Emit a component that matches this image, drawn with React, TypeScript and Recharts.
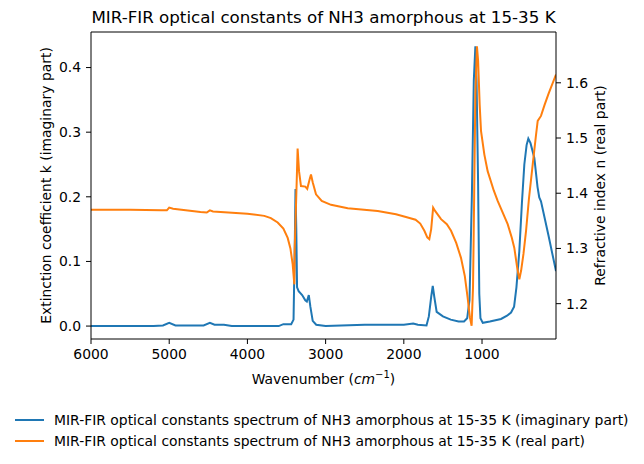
import React from "react";
import { ComposedChart, Line, XAxis, YAxis, ReferenceLine, Legend } from "recharts";

// wavenumber (cm-1) -> extinction coefficient k
const kWavenumbers = [
  6000, 5200, 5080, 5000, 4920, 4560, 4480, 4420, 4300, 4200, 3600, 3540, 3440, 3410, 3395, 3385,
  3375, 3365, 3345, 3300, 3260, 3240, 3215, 3195, 3165, 3120, 3000, 2500, 2200, 2000, 1880, 1820,
  1710, 1680, 1650, 1630, 1610, 1580, 1500, 1400, 1300, 1230, 1190, 1160, 1130, 1105, 1085, 1070,
  1050, 1035, 1020, 990, 900, 757, 680, 629, 590, 560, 523, 490, 459, 430, 408, 380, 331, 290,
  268, 246, 150, 54,
];
const kValues = [
  0.0, 0.0, 0.001, 0.005, 0.001, 0.001, 0.005, 0.002, 0.002, 0.0, 0.0, 0.003, 0.003, 0.01, 0.12, 0.212,
  0.15, 0.06, 0.054, 0.048, 0.04, 0.038, 0.048, 0.03, 0.008, 0.002, 0.0, 0.002, 0.002, 0.002, 0.004, 0.002,
  0.001, 0.015, 0.045, 0.062, 0.045, 0.022, 0.015, 0.01, 0.007, 0.007, 0.012, 0.04, 0.2, 0.38, 0.433, 0.38,
  0.22, 0.05, 0.012, 0.005, 0.007, 0.011, 0.016, 0.021, 0.03, 0.06, 0.116, 0.19, 0.25, 0.28, 0.29, 0.283, 0.26, 0.215,
  0.199, 0.193, 0.14, 0.085,
];

// wavenumber (cm-1) -> refractive index n
const nWavenumbers = [
  6000, 5500, 5100, 5030, 5000, 4950, 4600, 4520, 4480, 4440, 4000, 3784, 3700, 3613, 3540, 3485,
  3450, 3421, 3400, 3395, 3370, 3358, 3340, 3315, 3260, 3235, 3205, 3187, 3165, 3123, 3050, 2931,
  2717, 2334, 2100, 1950, 1850, 1790, 1737, 1700, 1674, 1650, 1625, 1600, 1524, 1450, 1396, 1330,
  1269, 1220, 1184, 1155, 1133, 1115, 1100, 1085, 1065, 1050, 1030, 1013, 970, 928, 850, 800,
  672, 620, 587, 550, 523, 500, 470, 437, 400, 352, 310, 288, 246, 200, 150, 54,
];
const nValues = [
  1.37, 1.37, 1.369, 1.369, 1.374, 1.372, 1.366, 1.365, 1.369, 1.367, 1.363, 1.359, 1.355, 1.347, 1.336, 1.319,
  1.3, 1.271, 1.235, 1.3, 1.42, 1.481, 1.44, 1.413, 1.412, 1.408, 1.425, 1.434, 1.42, 1.398, 1.386, 1.379,
  1.373, 1.368, 1.362, 1.356, 1.352, 1.345, 1.332, 1.32, 1.317, 1.335, 1.374, 1.368, 1.353, 1.344, 1.332, 1.31,
  1.283, 1.25, 1.211, 1.175, 1.16, 1.23, 1.4, 1.58, 1.666, 1.64, 1.56, 1.513, 1.47, 1.44, 1.405, 1.386,
  1.344, 1.32, 1.301, 1.265, 1.244, 1.26, 1.29, 1.332, 1.39, 1.452, 1.505, 1.531, 1.54, 1.56, 1.58, 1.615,
];

const xTicks = [6000, 5000, 4000, 3000, 2000, 1000];
const kTicks = [0, 0.1, 0.2, 0.3, 0.4];
const nTicks = [1.2, 1.3, 1.4, 1.5, 1.6];

const seriesNames = [
  "MIR-FIR optical constants spectrum of NH3 amorphous at 15-35 K (imaginary part)",
  "MIR-FIR optical constants spectrum of NH3 amorphous at 15-35 K (real part)",
];
const colors = ["#1f77b4", "#ff7f0e"];

const kData = kWavenumbers.map((wn, i) => ({ wn, k: kValues[i] }));
const nData = nWavenumbers.map((wn, i) => ({ wn, n: nValues[i] }));

const FONT = "DejaVu Sans";
const tickStyle = { fontSize: 13.9, fill: "#000", fontFamily: FONT };

const XTitle = ({ viewBox }: any) => {
  const cx = viewBox.x + viewBox.width / 2;
  return (
    <text x={cx} y={viewBox.y + 45} textAnchor="middle" fontSize={13.9} fontFamily={FONT} fill="#000">
      Wavenumber (<tspan fontStyle="italic">cm</tspan>
      <tspan fontSize={10} dy={-6}>−1</tspan>
      <tspan dy={6}>)</tspan>
    </text>
  );
};

const VTitle = ({ viewBox, text, x }: any) => {
  const cy = viewBox.y + viewBox.height / 2;
  return (
    <text
      x={x}
      y={cy}
      transform={`rotate(-90 ${x} ${cy})`}
      textAnchor="middle"
      dominantBaseline="central"
      fontSize={13.9}
      fontFamily={FONT}
      fill="#000"
    >
      {text}
    </text>
  );
};

const LegendBox = () => (
  <div style={{ fontFamily: FONT, fontSize: 13.9, color: "#000" }}>
    {seriesNames.map((name, i) => (
      <div key={name} style={{ display: "flex", alignItems: "center", height: 20.5 }}>
        <svg width={54} height={10}>
          <line x1={15} x2={44} y1={5} y2={5} stroke={colors[i]} strokeWidth={2} />
        </svg>
        <span style={{ whiteSpace: "nowrap" }}>{name}</span>
      </div>
    ))}
  </div>
);

export default function App() {
  return (
    <div style={{ position: "absolute", left: 0, top: 0, width: 644, height: 464, background: "#fff", fontFamily: FONT }}>
      <div
        style={{
          position: "absolute",
          left: 91,
          width: 465,
          top: 7,
          textAlign: "center",
          fontSize: 16.7,
          fontFamily: FONT,
          color: "#000",
          whiteSpace: "nowrap",
        }}
      >
        MIR-FIR optical constants of NH3 amorphous at 15-35 K
      </div>
      <ComposedChart width={644} height={464} margin={{ top: 32, right: 0, bottom: 75, left: 0 }}>
        <XAxis
          type="number"
          dataKey="wn"
          domain={[54, 6000]}
          reversed
          allowDataOverflow
          ticks={xTicks}
          tick={tickStyle}
          tickSize={5}
          tickMargin={5}
          height={50}
          stroke="#000"
          label={<XTitle />}
        />
        <YAxis
          yAxisId="k"
          orientation="left"
          domain={[-0.02, 0.455]}
          allowDataOverflow
          ticks={kTicks}
          tickFormatter={(v: number) => v.toFixed(1)}
          tick={tickStyle}
          tickSize={5}
          tickMargin={5}
          width={91}
          stroke="#000"
          label={<VTitle text="Extinction coefficient k (imaginary part)" x={43} />}
        />
        <YAxis
          yAxisId="n"
          orientation="right"
          domain={[1.136, 1.692]}
          allowDataOverflow
          ticks={nTicks}
          tickFormatter={(v: number) => v.toFixed(1)}
          tick={tickStyle}
          tickSize={5}
          tickMargin={5}
          width={88}
          stroke="#000"
          label={<VTitle text="Refractive index n (real part)" x={597} />}
        />
        <ReferenceLine yAxisId="k" y={0.455} stroke="#000" strokeWidth={1} ifOverflow="extendDomain" />
        <Line
          yAxisId="k"
          data={kData}
          dataKey="k"
          type="linear"
          stroke={colors[0]}
          strokeWidth={2}
          dot={false}
          isAnimationActive={false}
          name={seriesNames[0]}
        />
        <Line
          yAxisId="n"
          data={nData}
          dataKey="n"
          type="linear"
          stroke={colors[1]}
          strokeWidth={2}
          dot={false}
          isAnimationActive={false}
          name={seriesNames[1]}
        />
        <Legend
          layout="vertical"
          align="center"
          verticalAlign="middle"
          content={<LegendBox />}
          wrapperStyle={{ position: "absolute", left: 0, top: 410, width: 644 }}
        />
      </ComposedChart>
    </div>
  );
}
